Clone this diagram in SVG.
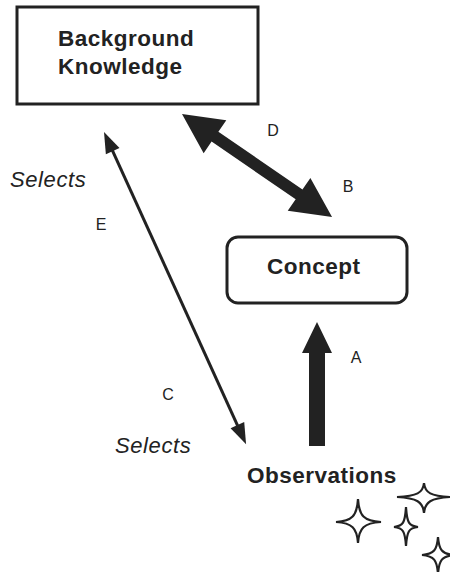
<svg xmlns="http://www.w3.org/2000/svg" width="450" height="572" viewBox="0 0 450 572">
<style>
.box{fill:#fff;stroke:#222;stroke-width:3}
.title{font-family:"Liberation Sans",Arial,sans-serif;font-weight:bold;font-size:22.5px;letter-spacing:0.5px;fill:#222}
.lbl{font-family:"Liberation Sans",Arial,sans-serif;font-size:16px;fill:#222;text-anchor:middle}
.sel{font-family:"Liberation Sans",Arial,sans-serif;font-style:italic;font-size:22px;letter-spacing:0.6px;fill:#222}
.arr{fill:#222;stroke:none}
.star{fill:#fff;stroke:#222;stroke-width:2.2;stroke-linejoin:miter}
</style>
<rect width="450" height="572" fill="#fff"/>
<g id="connectors">
  <g id="edge-D-B" transform="translate(182,114) rotate(34.47)">
    <polygon class="arr" points="0,0 40,-20 40,-6 142,-6 142,-20 182,0 142,20 142,6 40,6 40,20"/>
  </g>
  <g id="edge-A">
    <polygon class="arr" points="317,322 332,353 325,353 325,446 309,446 309,353 302,353"/>
  </g>
  <g id="edge-E-C" transform="translate(104,132) rotate(65.53)">
    <line x1="18" y1="0" x2="325" y2="0" stroke="#222" stroke-width="3"/>
    <polygon class="arr" points="0,0 21,-7.5 21,7.5"/>
    <polygon class="arr" points="343,0 322,-7.5 322,7.5"/>
  </g>
</g>
<g id="background-knowledge">
  <rect class="box" x="17" y="7" width="241" height="97"/>
  <text class="title" x="58" y="46">Background</text>
  <text class="title" x="58" y="74">Knowledge</text>
</g>
<g id="concept">
  <rect class="box" x="227" y="237" width="180" height="66" rx="11" ry="11"/>
  <text class="title" x="267" y="274">Concept</text>
</g>
<g id="observations">
  <text class="title" x="247" y="483">Observations</text>
  <path class="star" d="M336,522 C352,521 357,516 358,499 C359,516 364,521 381,522 C364,523 359,528 358,543 C357,528 352,523 336,522 Z"/>
  <path class="star" d="M397,497 C417,496 423,493 424,483 C425,493 431,496 450,497 C431,498 425,502 424,513 C423,502 417,498 397,497 Z"/>
  <path class="star" d="M394,527 C403,526 405,523 406,507 C407,523 409,526 418,527 C409,528 407,531 406,546 C405,531 403,528 394,527 Z"/>
  <path class="star" d="M422,555 C434,554 437,550 438,537 C439,550 442,554 454,555 C442,556 439,560 438,574 C437,560 434,556 422,555 Z"/>
</g>
<g id="labels">
  <text class="lbl" x="273" y="136">D</text>
  <text class="lbl" x="348" y="192">B</text>
  <text class="lbl" x="101" y="230">E</text>
  <text class="lbl" x="168" y="400">C</text>
  <text class="lbl" x="356" y="363">A</text>
  <text class="sel" x="10" y="187">Selects</text>
  <text class="sel" x="115" y="453">Selects</text>
</g>
</svg>
